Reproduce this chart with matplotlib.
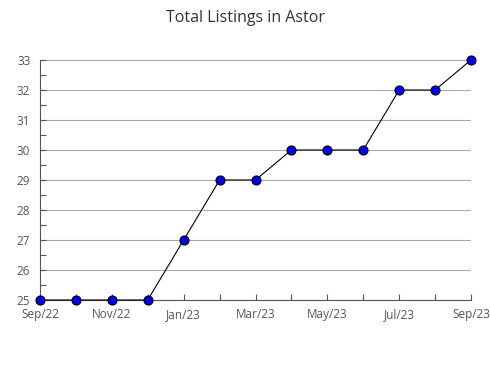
import matplotlib.pyplot as plt
from matplotlib.ticker import MultipleLocator

months = ["Sep/22", "Oct/22", "Nov/22", "Dec/22", "Jan/23", "Feb/23", "Mar/23",
          "Apr/23", "May/23", "Jun/23", "Jul/23", "Aug/23", "Sep/23"]
listings = [25, 25, 25, 25, 27, 29, 29, 30, 30, 30, 32, 32, 33]

plt.rcParams["font.family"] = ["Open Sans", "DejaVu Sans"]

fig = plt.figure(figsize=(4.9, 3.8), dpi=100)
ax = fig.add_axes([40 / 490, 1 - 300 / 380, 431 / 490, 240 / 380])

x = list(range(len(months)))
ax.plot(x, listings, color="black", linewidth=0.8, marker="o", markersize=6.5,
        markerfacecolor="#0000ee", markeredgecolor="black", markeredgewidth=0.8,
        zorder=3, clip_on=False)

ax.set_xlim(0, len(months) - 1)
ax.set_ylim(25, 33)
ax.set_xticks(x)
ax.set_xticklabels([m if i % 2 == 0 else "" for i, m in enumerate(months)])
ax.yaxis.set_major_locator(MultipleLocator(1))
ax.yaxis.set_minor_locator(MultipleLocator(0.5))

ax.grid(axis="y", color="#aaaaaa", linewidth=0.8)
ax.set_axisbelow(True)
for side in ["top", "right"]:
    ax.spines[side].set_visible(False)
for side in ["left", "bottom"]:
    ax.spines[side].set_color("#555555")
    ax.spines[side].set_linewidth(0.8)

ax.tick_params(axis="both", which="both", direction="in", colors="#555555",
               labelcolor="#555555", labelsize=8.5, length=4, width=0.8)
ax.tick_params(axis="y", which="both", pad=7)
ax.tick_params(axis="x", which="both", pad=6)

fig.suptitle("Total Listings in Astor", y=0.975, fontsize=11.5, color="#333333")

fig.savefig("out.png", dpi=100)
